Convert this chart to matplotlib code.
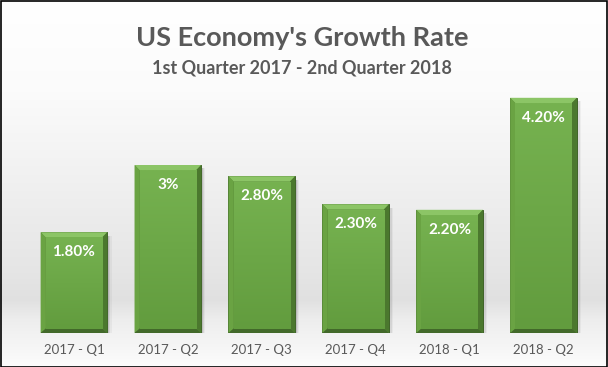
import matplotlib
matplotlib.use("Agg")
import matplotlib.pyplot as plt
import numpy as np
from matplotlib.patches import Rectangle, Polygon

categories = ["2017 - Q1", "2017 - Q2", "2017 - Q3", "2017 - Q4", "2018 - Q1", "2018 - Q2"]
values = [1.8, 3.0, 2.8, 2.3, 2.2, 4.2]
labels = ["1.80%", "3%", "2.80%", "2.30%", "2.20%", "4.20%"]
title = "US Economy's Growth Rate"
subtitle = "1st Quarter 2017 - 2nd Quarter 2018"

W, H = 608, 367
fig = plt.figure(figsize=(W / 100, H / 100), dpi=100)
plt.rcParams['font.family'] = ['Lato', 'DejaVu Sans']

# background gradient
bg = fig.add_axes([0, 0, 1, 1], zorder=0)
bg.set_axis_off()
ys = np.linspace(0, 1, 300)
col = np.ones((300, 1, 3))
g = np.interp(ys * H, [0, 90, 270, 300, 320, 367], [1.0, 0.985, 0.90, 0.88, 0.93, 0.99])
col[:, 0, :] = g[:, None]
bg.imshow(col, aspect='auto', extent=[0, 1, 1, 0])
bg.set_xlim(0, 1)
bg.set_ylim(1, 0)

x0, x1 = 27, 590.5
base = 333
scale = 56
ax = fig.add_axes([x0 / W, (H - base) / H, (x1 - x0) / W, (base - 20) / H], zorder=1)
ax.set_facecolor('none')
ymax = (base - 20) / scale
ax.set_xlim(-0.5, len(values) - 0.5)
ax.set_ylim(0, ymax)
for s in ax.spines.values():
    s.set_visible(False)
ax.set_yticks([])
x = np.arange(len(values))
ax.set_xticks(x)
ax.set_xticklabels(categories, color='#595959', fontsize=9.5)
ax.tick_params(axis='x', length=0, pad=8)

bw = 0.71
bars = ax.bar(x, values, width=bw, color='#5c8f3a', edgecolor='#3f6328', linewidth=0.7, zorder=2)
ix, iyt, iyb = 0.055, 0.095, 0.08
grad = np.linspace(0, 1, 100)
body = np.zeros((100, 1, 3))
top_c = np.array([0x76, 0xb2, 0x50]) / 255
bot_c = np.array([0x62, 0x9c, 0x3e]) / 255
body[:, 0, :] = top_c[None, :] * (1 - grad[:, None]) + bot_c[None, :] * grad[:, None]
for xi, v, lab in zip(x, values, labels):
    l, r = xi - bw / 2, xi + bw / 2
    # soft shadow on right
    for k, a in enumerate([0.10, 0.07, 0.04]):
        ax.add_patch(Rectangle((r, 0), 0.015 * (k + 1), v - 0.06, color='#000000', alpha=a,
                               zorder=1, lw=0))
    ax.add_patch(Polygon([(l, v), (r, v), (r - ix, v - iyt), (l + ix, v - iyt)], closed=True,
                         facecolor='#8cc566', edgecolor='none', zorder=3))
    ax.add_patch(Polygon([(l, 0), (l, v), (l + ix, v - iyt), (l + ix, iyb)], closed=True,
                         facecolor='#6aa343', edgecolor='none', zorder=3))
    ax.add_patch(Polygon([(r, 0), (r, v), (r - ix, v - iyt), (r - ix, iyb)], closed=True,
                         facecolor='#4b782e', edgecolor='none', zorder=3))
    ax.add_patch(Polygon([(l, 0), (r, 0), (r - ix, iyb), (l + ix, iyb)], closed=True,
                         facecolor='#42692a', edgecolor='none', zorder=3))
    ax.imshow(body, aspect='auto', extent=[l + ix, r - ix, iyb, v - iyt], zorder=3,
              interpolation='bilinear')
    ax.text(xi, v - 0.36, lab, ha='center', va='center', color='white',
            fontsize=11, fontweight='bold', zorder=4)

ax.set_xlim(-0.5, len(values) - 0.5)
ax.set_ylim(0, ymax)
ax.set_aspect('auto')

fig.text(0.497, (H - 38) / H, title, ha='center', va='center', fontsize=19.5,
         fontweight='bold', color='#595959')
fig.text(0.497, (H - 68) / H, subtitle, ha='center', va='center', fontsize=13,
         fontweight='bold', color='#595959')

fig.add_artist(Rectangle((0.5 / W, 0.5 / H), (W - 1.5) / W, (H - 1.5) / H,
                         transform=fig.transFigure, fill=False, edgecolor='black', linewidth=1.2))

fig.savefig("out.png", dpi=100)
